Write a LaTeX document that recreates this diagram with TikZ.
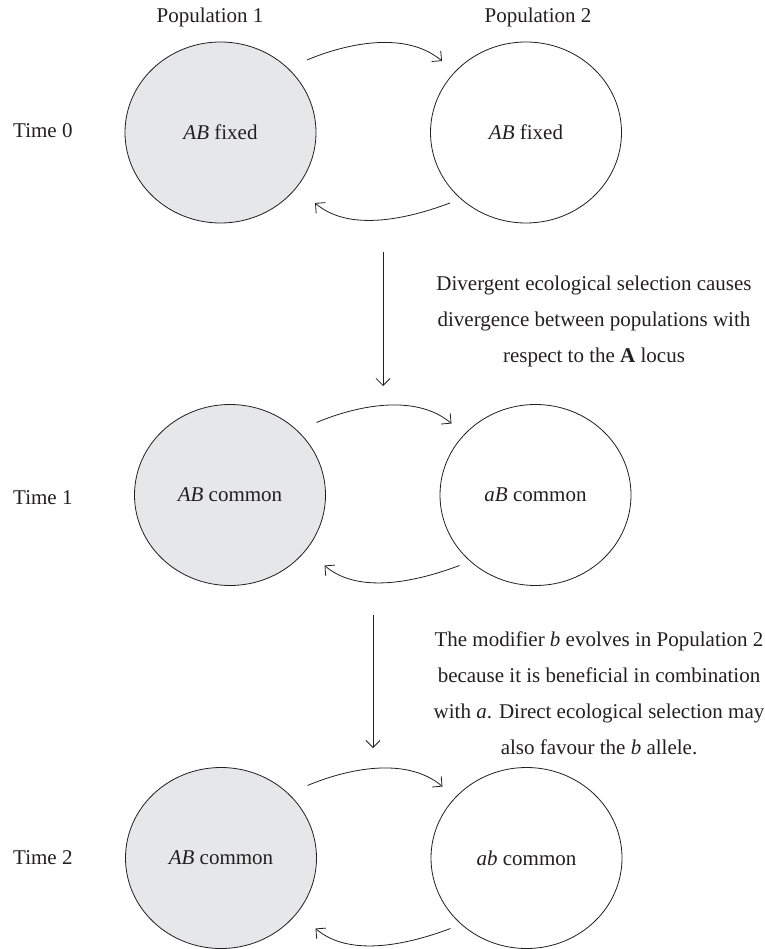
\documentclass[tikz,border=0pt]{standalone}
\usepackage{fontspec}
\setmainfont{Liberation Serif}
\usetikzlibrary{arrows.meta,calc,shapes.geometric}
\definecolor{popfill}{RGB}{230,231,232}
\definecolor{ink}{RGB}{35,31,32}
\begin{document}
\begin{tikzpicture}[x=1pt,y=-1pt,
  pop/.style={ellipse,draw=ink,line width=0.8pt,minimum width=191pt,minimum height=181pt,inner sep=0pt,
    font=\fontsize{21}{25}\selectfont,text=ink},
  pop1/.style={pop,fill=popfill},
  pop2/.style={pop,fill=white},
  lbl/.style={font=\fontsize{21}{25}\selectfont,text=ink,inner sep=0pt},
  note/.style={font=\fontsize{21}{36}\selectfont,text=ink,align=center,inner sep=0pt},
  arr/.style={draw=ink,line width=0.8pt,-{Straight Barb[length=7pt,width=14pt]}}]
\useasboundingbox (0,0) rectangle (764,949);

% headers
\node[lbl] (h1) at (210,17) {Population 1};
\node[lbl] (h2) at (538,17) {Population 2};

% time labels
\node[lbl,anchor=west] (t0) at (13,131) {Time 0};
\node[lbl,anchor=west] (t1) at (13,498) {Time 1};
\node[lbl,anchor=west] (t2) at (13,858) {Time 2};

% row 0
\node[pop1] (L0) at (220.5,132.5) {\textit{AB} fixed};
\node[pop2] (R0) at (526,132.5) {\textit{AB} fixed};
% row 1
\node[pop1] (L1) at (230,495) {\textit{AB} common};
\node[pop2] (R1) at (535.5,495) {\textit{aB} common};
% row 2
\node[pop1] (L2) at (221,858) {\textit{AB} common};
\node[pop2] (R2) at (526.5,858) {\textit{ab} common};

% migration arrows
\foreach \i in {0,1,2}{
  \draw[arr] ($(L\i.center)+(86.5,-72.5)$) .. controls ($(L\i.center)+(124.5,-88.5)$) and ($(L\i.center)+(184.5,-102.5)$) .. ($(R\i.center)+(-84,-71.5)$);
  \draw[arr] ($(R\i.center)+(-76,70.5)$) .. controls ($(R\i.center)+(-116,85.5)$) and ($(L\i.center)+(129.5,100.5)$) .. ($(L\i.center)+(94.5,70.5)$);
}

% time arrows
\coordinate (v1s) at (383,252);
\coordinate (v1e) at (383,386);
\coordinate (v2s) at (373,615);
\coordinate (v2e) at (373,748);
\draw[arr] (v1s) -- (v1e);
\draw[arr] (v2s) -- (v2e);

% notes
\node[note] (n1) at (594,321) {Divergent ecological selection causes\\divergence between populations with\\respect to the \textbf{A} locus};
\node[note] (n2) at (599,693) {The modifier \textit{b} evolves in Population 2\\because it is beneficial in combination\\with \textit{a}. Direct ecological selection may\\also favour the \textit{b} allele.};
\end{tikzpicture}
\end{document}
